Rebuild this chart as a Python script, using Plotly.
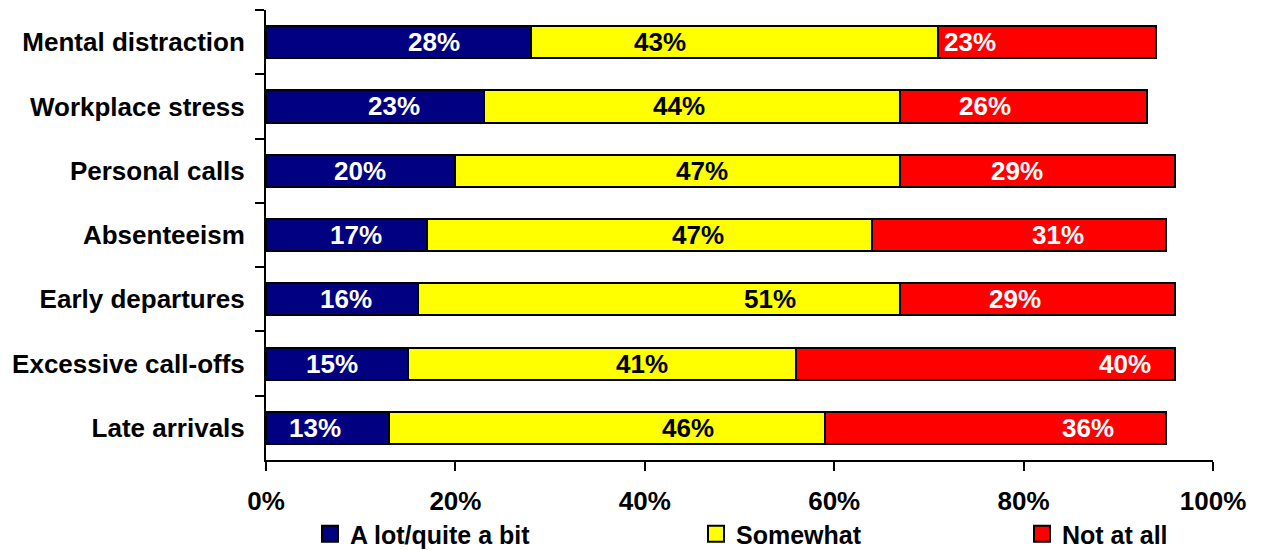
import plotly.graph_objects as go

# Survey results: how much each behaviour affects the workplace (share of respondents)
categories = [
    "Mental distraction",
    "Workplace stress",
    "Personal calls",
    "Absenteeism",
    "Early departures",
    "Excessive call-offs",
    "Late arrivals",
]
a_lot = [28, 23, 20, 17, 16, 15, 13]
somewhat = [43, 44, 47, 47, 51, 41, 46]
not_at_all = [23, 26, 29, 31, 29, 40, 36]

series_names = ["A lot/quite a bit", "Somewhat", "Not at all"]
series_colors = ["#000080", "#FFFF00", "#FF0000"]
label_colors = ["white", "black", "white"]

# Where each value label sits along the bar (in % units)
label_x_a_lot = [17.7, 13.5, 9.9, 9.5, 8.4, 7.0, 5.2]
label_x_somewhat = [41.6, 43.6, 46.0, 45.6, 53.2, 39.7, 44.6]
label_x_not_at_all = [74.3, 75.9, 79.3, 83.6, 79.1, 90.7, 86.8]

tick_values = [0, 20, 40, 60, 80, 100]
tick_labels = ["0%", "20%", "40%", "60%", "80%", "100%"]

FONT = "Liberation Sans, Arial, sans-serif"
FS = 26
W, H = 1263, 550
L, R, T, B = 266, 50, 10, 90

fig = go.Figure()

series = [a_lot, somewhat, not_at_all]
for name, vals, color in zip(series_names, series, series_colors):
    fig.add_trace(go.Bar(
        y=categories, x=vals, name=name, orientation="h",
        marker=dict(color=color, line=dict(color="black", width=2)),
        width=0.5, showlegend=False, hoverinfo="x+y",
    ))

# Value labels
for vals, xs, fc in zip(series, [label_x_a_lot, label_x_somewhat, label_x_not_at_all], label_colors):
    for cat, v, xp in zip(categories, vals, xs):
        fig.add_annotation(
            x=xp, y=cat, text=f"{v}%", showarrow=False,
            font=dict(family=FONT, size=FS, color=fc, weight="bold"),
            xanchor="center", yanchor="middle",
        )

# Legend entries, each in its own legend box along the bottom
legend_left_px = [310, 696, 1022]
legend_keys = ["legend", "legend2", "legend3"]
for name, color, key in zip(series_names, series_colors, legend_keys):
    fig.add_trace(go.Scatter(
        x=[None], y=[None], mode="markers", name=name, legend=key,
        marker=dict(symbol="square", size=16, color=color,
                    line=dict(color="black", width=2)),
        showlegend=True,
    ))

legend_common = dict(
    xref="container", yref="container", y=(H - 534) / H, yanchor="middle",
    xanchor="left", orientation="h", bgcolor="rgba(0,0,0,0)", borderwidth=0,
    font=dict(family=FONT, size=25, color="black", weight="bold"),
    itemclick=False, itemdoubleclick=False,
)

fig.update_layout(
    width=W, height=H,
    margin=dict(l=L, r=R, t=T, b=B, autoexpand=False),
    paper_bgcolor="white", plot_bgcolor="white",
    barmode="stack", bargap=0.5,
    font=dict(family=FONT, size=FS, color="black", weight="bold"),
    xaxis=dict(
        range=[0, 100], tickmode="array", tickvals=tick_values, ticktext=tick_labels,
        showgrid=False, zeroline=False,
        showline=True, linecolor="black", linewidth=2,
        ticks="outside", ticklen=9, tickwidth=2, tickcolor="black",
        ticklabelstandoff=8,
        tickfont=dict(family=FONT, size=FS, color="black", weight="bold"),
    ),
    yaxis=dict(
        type="category", categoryorder="array", categoryarray=categories,
        range=[6.5, -0.5], showgrid=False, zeroline=False,
        showline=True, linecolor="black", linewidth=2,
        ticks="outside", ticklen=9, tickwidth=2, tickcolor="black",
        tickson="boundaries", ticklabelstandoff=14,
        tickfont=dict(family=FONT, size=FS, color="black", weight="bold"),
    ),
    legend=dict(legend_common, x=legend_left_px[0] / W),
    legend2=dict(legend_common, x=legend_left_px[1] / W),
    legend3=dict(legend_common, x=legend_left_px[2] / W),
)

fig.write_html("out.html")
